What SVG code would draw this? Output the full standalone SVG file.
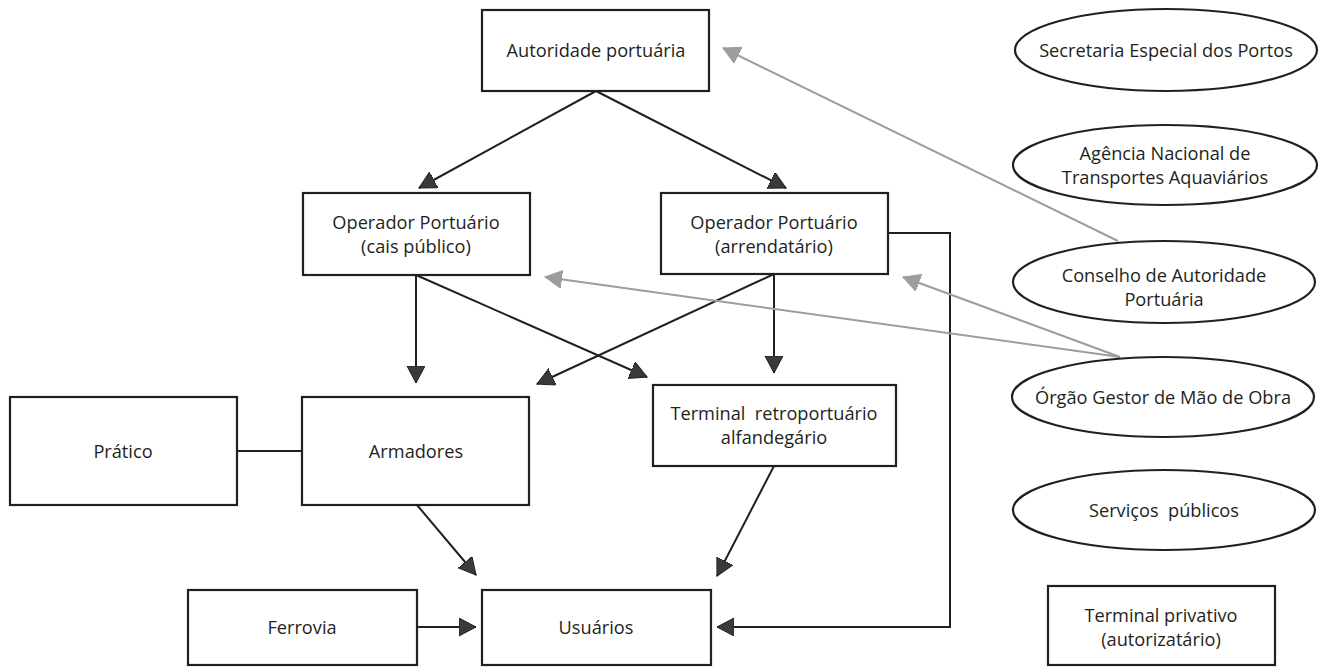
<svg xmlns="http://www.w3.org/2000/svg" width="1319" height="668" viewBox="0 0 1319 668">
<defs>
<marker id="ab" markerUnits="userSpaceOnUse" markerWidth="20" markerHeight="20" refX="17" refY="9" orient="auto" viewBox="0 0 20 20">
<path d="M0,0 L17,9 L0,18 z" fill="#3a3a3a" stroke="#231f20" stroke-width="1"/>
</marker>
<marker id="ag" markerUnits="userSpaceOnUse" markerWidth="20" markerHeight="20" refX="17" refY="9" orient="auto" viewBox="0 0 20 20">
<path d="M0,0 L17,9 L0,18 z" fill="#9d9d9d" stroke="#9d9d9d" stroke-width="1"/>
</marker>
</defs>
<style>
.box{fill:#fff;stroke:#231f20;stroke-width:2.2}
.ell{fill:#fff;stroke:#231f20;stroke-width:2.2}
.t{font-family:"Open Sans","Noto Sans",sans-serif;font-size:18.2px;fill:#231f20;text-anchor:middle;dominant-baseline:central;white-space:pre}
.c{fill:none;stroke:#231f20;stroke-width:2}
.g{fill:none;stroke:#9d9d9d;stroke-width:2}
</style>
<rect width="1319" height="668" fill="#fff"/>
<g id="connectors">
<line class="c" x1="596" y1="91" x2="419" y2="188" marker-end="url(#ab)"/>
<line class="c" x1="596" y1="91" x2="786" y2="188" marker-end="url(#ab)"/>
<line class="c" x1="416" y1="275" x2="416" y2="383" marker-end="url(#ab)"/>
<line class="c" x1="416" y1="275" x2="647" y2="377" marker-end="url(#ab)"/>
<line class="c" x1="774" y1="274" x2="774" y2="373" marker-end="url(#ab)"/>
<line class="c" x1="774" y1="274" x2="537" y2="384" marker-end="url(#ab)"/>
<line class="c" x1="237" y1="451" x2="302" y2="451"/>
<line class="c" x1="417" y1="505" x2="476" y2="575" marker-end="url(#ab)"/>
<line class="c" x1="774" y1="466" x2="717" y2="576" marker-end="url(#ab)"/>
<line class="c" x1="417" y1="627" x2="476" y2="627" marker-end="url(#ab)"/>
<polyline class="c" points="888,233 950,233 950,627 717,627" marker-end="url(#ab)"/>
<line class="g" x1="1118" y1="241" x2="723" y2="48" marker-end="url(#ag)"/>
<line class="g" x1="1120" y1="357" x2="545" y2="277" marker-end="url(#ag)"/>
<line class="g" x1="1120" y1="357" x2="903" y2="277" marker-end="url(#ag)"/>
</g>
<g id="autoridade"><rect class="box" x="482" y="10" width="227" height="81"/><text class="t" x="596" y="50">Autoridade portuária</text></g>
<g id="op-cais"><rect class="box" x="303" y="193" width="227" height="82"/><text class="t" x="416" y="222">Operador Portuário</text><text class="t" x="416" y="246">(cais público)</text></g>
<g id="op-arrend"><rect class="box" x="661" y="193" width="227" height="81"/><text class="t" x="774" y="222">Operador Portuário</text><text class="t" x="774" y="246">(arrendatário)</text></g>
<g id="pratico"><rect class="box" x="10" y="397" width="227" height="108"/><text class="t" x="123" y="451">Prático</text></g>
<g id="armadores"><rect class="box" x="302" y="397" width="227" height="108"/><text class="t" x="416" y="451">Armadores</text></g>
<g id="terminal-retro"><rect class="box" x="653" y="385" width="243" height="81"/><text class="t" x="774" y="413">Terminal  retroportuário</text><text class="t" x="774" y="437">alfandegário</text></g>
<g id="ferrovia"><rect class="box" x="188" y="590" width="229" height="75"/><text class="t" x="302" y="627">Ferrovia</text></g>
<g id="usuarios"><rect class="box" x="482" y="590" width="229" height="75"/><text class="t" x="596" y="627">Usuários</text></g>
<g id="terminal-priv"><rect class="box" x="1048" y="586" width="227" height="79"/><text class="t" x="1161" y="615">Terminal privativo</text><text class="t" x="1161" y="639">(autorizatário)</text></g>
<g id="sep"><ellipse class="ell" cx="1166" cy="50" rx="151" ry="41"/><text class="t" x="1166" y="50">Secretaria Especial dos Portos</text></g>
<g id="antaq"><ellipse class="ell" cx="1165" cy="165" rx="152" ry="40"/><text class="t" x="1165" y="153">Agência Nacional de</text><text class="t" x="1165" y="177">Transportes Aquaviários</text></g>
<g id="cap"><ellipse class="ell" cx="1164" cy="282" rx="151" ry="41"/><text class="t" x="1164" y="275">Conselho de Autoridade</text><text class="t" x="1164" y="299">Portuária</text></g>
<g id="ogmo"><ellipse class="ell" cx="1163" cy="397" rx="151" ry="40"/><text class="t" x="1163" y="397">Órgão Gestor de Mão de Obra</text></g>
<g id="servicos"><ellipse class="ell" cx="1164" cy="510" rx="151" ry="40"/><text class="t" x="1164" y="510">Serviços  públicos</text></g>
</svg>
